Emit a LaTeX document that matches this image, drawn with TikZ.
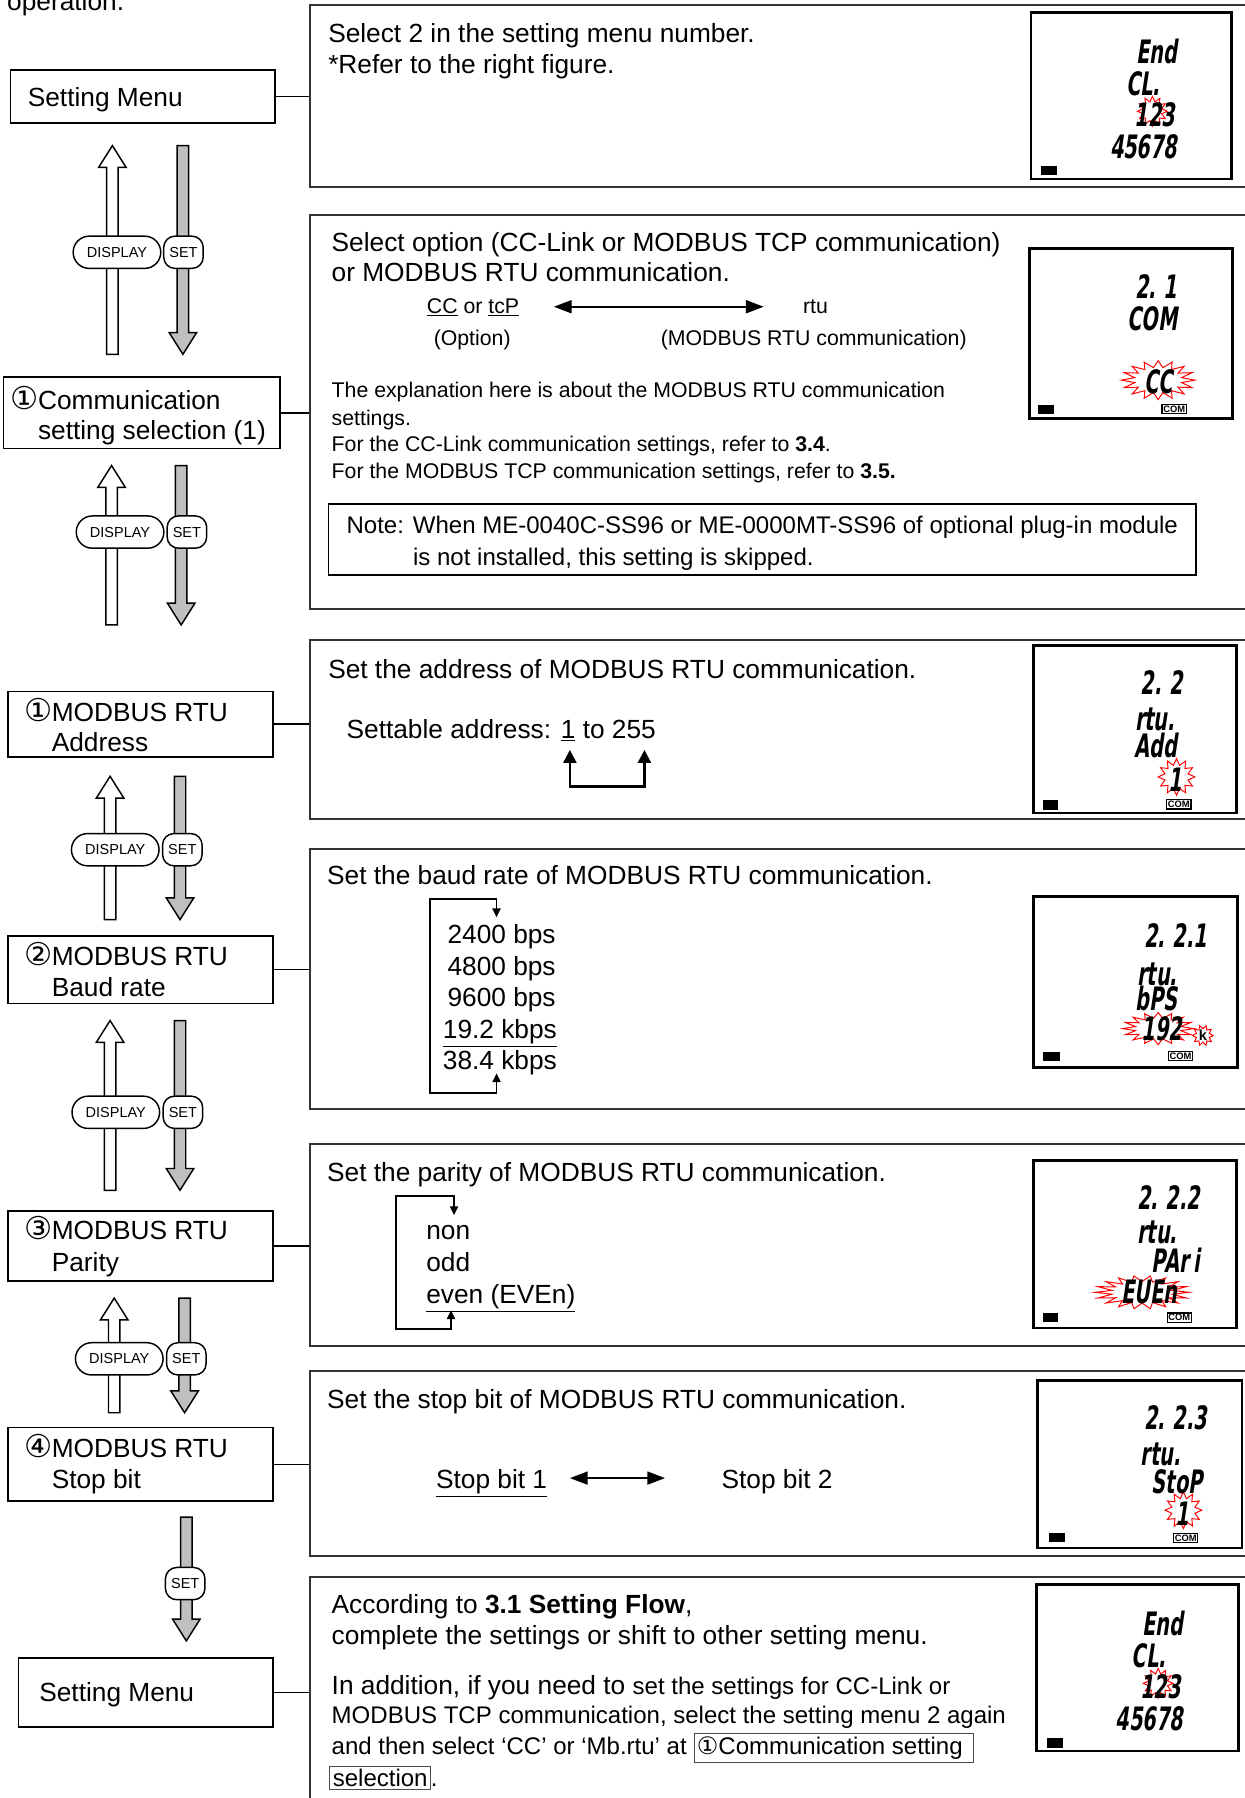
\documentclass[tikz,border=0pt]{standalone}
\usepackage{fontspec}
\setmainfont{Liberation Sans}
\newfontfamily\circfont{DejaVu Sans}
\newfontfamily\lcdfont{DejaVu Sans}[FakeStretch=0.6,FakeSlant=0.15]
\usetikzlibrary{arrows.meta,fit}

\newcommand{\szA}{\fontsize{16.3}{19}\selectfont}
\newcommand{\szB}{\fontsize{14.9}{18}\selectfont}
\newcommand{\szC}{\fontsize{13.2}{16}\selectfont}
\newcommand{\szD}{\fontsize{9}{10}\selectfont}
\newcommand{\cnum}[1]{\makebox[17pt][l]{\circfont\fontsize{19.5}{19}\selectfont #1}}
\newcommand{\frm}[1]{{\fboxsep=1.5pt\fboxrule=0.6pt\color{black!70}\fbox{\color{black}#1}}}
\newcommand{\keyup}[3]{\draw[keyline, fill=white] ({#1-5},#3) -- ({#1-5},{#2+19}) -- ({#1-12},{#2+19}) -- (#1,#2) -- ({#1+12},{#2+19}) -- ({#1+5},{#2+19}) -- ({#1+5},#3) -- cycle;}
\newcommand{\keydown}[3]{\draw[keyline, fill=gray!50] ({#1-5},#2) -- ({#1-5},{#3-19}) -- ({#1-12},{#3-19}) -- (#1,#3) -- ({#1+12},{#3-19}) -- ({#1+5},{#3-19}) -- ({#1+5},#2) -- cycle;}
\newcommand{\flash}[5]{\draw[flashline] ({#1+#3},#2) \foreach \k in {1,...,#5} { -- ({#1+#3*(1-0.35*mod(\k,2))*cos(\k*360/#5)},{#2+#4*(1-0.35*mod(\k,2))*sin(\k*360/#5)}) } -- cycle;}

\begin{document}
\begin{tikzpicture}[x=0.25mm, y=-0.25mm,
	txt/.style={anchor=base west, inner sep=0pt, font=\szA},
	stxt/.style={txt, font=\szC},
	menubox/.style={draw, line width=1pt, inner sep=0pt},
	panel/.style={draw=black!80, line width=1.2pt, inner sep=0pt},
	lcd/.style={draw, line width=1.7pt, inner sep=0pt},
	seg/.style={anchor=base east, inner sep=0pt, font={\lcdfont\bfseries\fontsize{20}{20}\selectfont}},
	combox/.style={draw, line width=0.7pt, inner sep=0.8pt, font={\fontsize{5.8}{5.8}\selectfont\bfseries}},
	dispkey/.style={draw, fill=white, line width=0.9pt, rounded corners=10pt, minimum height=20pt, inner xsep=8.5pt, inner ysep=0pt, font=\szD},
	setkey/.style={dispkey, rounded corners=7pt, inner xsep=3.5pt},
	keyline/.style={line width=0.9pt},
	flashline/.style={red, line width=0.6pt},
	link/.style={line width=1pt},
	dbl/.style={line width=1.3pt, {Triangle[length=11pt,width=8pt]}-{Triangle[length=11pt,width=8pt]}},
	brk/.style={line width=1.5pt, {Triangle[length=8pt,width=8pt]}-{Triangle[length=8pt,width=8pt]}},
	cyc/.style={line width=1.2pt, {Triangle[length=5.5pt,width=5pt]}-{Triangle[length=5.5pt,width=5pt]}}]

	\useasboundingbox (0,0) rectangle (1085,1568);

	\node[txt] (op) at (6,9.3) {operation.};

	\node[menubox, fit={(9,61) (240,107)}] (sm1) {};
	\node[menubox, fit={(3,329) (244,391)}] (cs) {};
	\node[menubox, fit={(7,603) (238,660)}] (adr) {};
	\node[menubox, fit={(7,816) (238,875)}] (bd) {};
	\node[menubox, fit={(7,1056) (238,1117)}] (par) {};
	\node[menubox, fit={(7,1245) (238,1309)}] (stp) {};
	\node[menubox, fit={(16,1446) (238,1506)}] (sm2) {};

	\node[txt] (sm1t) at (24,93) {Setting Menu};
	\node[txt] (cst1) at (9,357) {\cnum{①}Communication};
	\node[txt] (cst2) at (9,383) {\hspace*{17pt}setting selection (1)};
	\node[txt] (adrt1) at (21,629) {\cnum{①}MODBUS RTU};
	\node[txt] (adrt2) at (21,655) {\hspace*{17pt}Address};
	\node[txt] (bdt1) at (21,842) {\cnum{②}MODBUS RTU};
	\node[txt] (bdt2) at (21,869) {\hspace*{17pt}Baud rate};
	\node[txt] (part1) at (21,1081) {\cnum{③}MODBUS RTU};
	\node[txt] (part2) at (21,1109) {\hspace*{17pt}Parity};
	\node[txt] (stpt1) at (21,1271) {\cnum{④}MODBUS RTU};
	\node[txt] (stpt2) at (21,1298) {\hspace*{17pt}Stop bit};
	\node[txt] (sm2t) at (34,1484) {Setting Menu};

	\foreach \i/\xu/\xd/\ya/\yb/\yk/\xp/\xs in {1/98/159.5/127/309/220/102/160, 2/97.3/158/406/545/464/104.7/163, 3/96/157/677/802/741/100.5/159, 4/96/157/890/1038/970/101/159.5, 5/99.6/161/1132/1232/1185/104/162.5}{
		\keyup{\xu}{\ya}{\yb}
		\keydown{\xd}{\ya}{\yb}
		\node[dispkey] (d\i) at (\xp,\yk) {DISPLAY};
		\node[setkey] (s\i) at (\xs,\yk) {SET};
	}
	\keydown{162.5}{1323}{1431}
	\node[setkey] (s6) at (161.5,1381) {SET};

	\node[panel, fit={(270,4) (1100,163)}] (p1) {};
	\node[panel, fit={(270,187.5) (1100,531)}] (p2) {};
	\node[panel, fit={(270,558) (1100,714.5)}] (p3) {};
	\node[panel, fit={(270,740) (1100,967)}] (p4) {};
	\node[panel, fit={(270,998) (1100,1174)}] (p5) {};
	\node[panel, fit={(270,1196) (1100,1357)}] (p6) {};
	\node[panel, fit={(270,1375) (1100,1600)}] (p7) {};

	\draw[link] (sm1.east) -- (sm1.east -| p1.west);
	\draw[link] (cs.east) -- (cs.east -| p2.west);
	\draw[link] (adr.east) -- (adr.east -| p3.west);
	\draw[link] (bd.east) -- (bd.east -| p4.west);
	\draw[link] (par.east) -- (par.east -| p5.west);
	\draw[link] (stp.east) -- (stp.east -| p6.west);
	\draw[link] (sm2.east) -- (sm2.east -| p7.west);

	\node[txt] (p1a) at (286,37) {Select 2 in the setting menu number.};
	\node[txt] (p1b) at (286,64) {*Refer to the right figure.};

	\node[txt] (p2a) at (289,219.5) {Select option (CC-Link or MODBUS TCP communication)};
	\node[txt] (p2b) at (289,245.7) {or MODBUS RTU communication.};
	\node[stxt] (cc) at (372,273) {\underline{CC} or \underline{tcP}};
	\node[stxt] (rtu) at (700,273) {rtu};
	\node[stxt] (opt) at (378,301) {(Option)};
	\node[stxt] (mrtu) at (576,301) {(MODBUS RTU communication)};
	\coordinate (c1) at (483,267.5);
	\coordinate (c2) at (666,267.5);
	\draw[dbl] (c1) -- (c2);
	\node[stxt] (p2c) at (289,347) {The explanation here is about the MODBUS RTU communication};
	\node[stxt] (p2d) at (289,371) {settings.};
	\node[stxt] (p2e) at (289,394) {For the CC-Link communication settings, refer to \textbf{3.4}.};
	\node[stxt] (p2f) at (289,417) {For the MODBUS TCP communication settings, refer to \textbf{3.5.}};
	\node[menubox, fit={(286.5,439.5) (1043,501.5)}] (note) {};
	\node[txt, font=\szB] (note1) at (302,465) {Note: When ME-0040C-SS96 or ME-0000MT-SS96 of optional plug-in module};
	\node[txt, font=\szB] (note2) at (360,493) {is not installed, this setting is skipped.};

	\node[txt] (p3a) at (286,591.7) {Set the address of MODBUS RTU communication.};
	\node[txt] (p3b) at (302,644) {Settable address: \underline{1} to 255};
	\coordinate (a1) at (497,654);
	\coordinate (a2) at (562,654);
	\coordinate (a3) at (530,686);
	\draw[brk] (a1) |- (a3) -| (a2);

	\node[txt] (p4a) at (285,771.4) {Set the baud rate of MODBUS RTU communication.};
	\foreach \j/\t/\x/\y in {1/2400 bps/390/823, 2/4800 bps/390/850.5, 3/9600 bps/390/878, 4/\underline{19.2 kbps}/386/905.5, 5/38.4 kbps/386/933}
		\node[txt] (bps\j) at (\x,\y) {\t};
	\coordinate (b1) at (433,800);
	\coordinate (b2) at (433,936);
	\draw[cyc] (b1) -- (433,784) -- (375,784) -- (375,953.5) -- (433,953.5) -- (b2);

	\node[txt] (p5a) at (285,1030.7) {Set the parity of MODBUS RTU communication.};
	\node[txt] (non) at (371.5,1081) {non};
	\node[txt] (odd) at (371.5,1108.6) {odd};
	\node[txt] (even) at (371.5,1136.8) {\underline{even (EVEn)}};
	\coordinate (e1) at (396,1059.7);
	\coordinate (e2) at (393.3,1142.6);
	\draw[cyc] (e1) -- (396,1043) -- (345.4,1043) -- (345.4,1158.6) -- (393.3,1158.6) -- (e2);

	\node[txt] (p6a) at (285,1228) {Set the stop bit of MODBUS RTU communication.};
	\node[txt] (sb1) at (380,1298) {\underline{Stop bit 1}};
	\node[txt] (sb2) at (629,1298) {Stop bit 2};
	\coordinate (f1) at (497,1289);
	\coordinate (f2) at (580,1289);
	\draw[dbl] (f1) -- (f2);

	\node[txt] (p7a) at (289,1407) {According to \textbf{3.1 Setting Flow},};
	\node[txt] (p7b) at (289,1434) {complete the settings or shift to other setting menu.};
	\node[txt] (p7c) at (289,1478) {In addition, if you need to {\szB set the settings for CC-Link or}};
	\node[txt, font=\szB] (p7d) at (289,1503) {MODBUS TCP communication, select the setting menu 2 again};
	\node[txt, font=\szB] (p7e) at (289,1530) {and then select ‘CC’ or ‘Mb.rtu’ at \frm{{\circfont ①}Communication setting\hspace{5pt}}};
	\node[txt, font=\szB] (p7f) at (287,1558) {\frm{selection}.};

	\node[lcd, fit={(899,11) (1074,156)}] (l1) {};
	\flash{1005}{97}{13}{13}{24}
	\node[seg] (l1a) at (1027,55) {End};
	\node[seg] (l1b) at (1012,83) {CL.};
	\node[seg] (l1c) at (1025,110) {123};
	\node[seg] (l1d) at (1027,138) {45678};
	\fill (908,145) rectangle (922,153);

	\node[lcd, fit={(898,217) (1075,365)}] (l2) {};
	\flash{1010}{331.5}{32}{17}{32}
	\node[seg] (l2a) at (1027,260) {2.\hspace{5pt}1};
	\node[seg] (l2b) at (1027,288) {COM};
	\node[seg] (l2c) at (1023,343) {CC};
	\fill (905,353) rectangle (919,361);
	\node[combox] (l2m) at (1024,356.5) {COM};

	\node[lcd, fit={(901,563) (1078,709)}] (l3) {};
	\flash{1026}{677.5}{16}{16}{24}
	\node[seg] (l3a) at (1032,606) {2.\hspace{5pt}2};
	\node[seg] (l3b) at (1025,637) {rtu.};
	\node[seg] (l3c) at (1027,661) {Add};
	\node[seg] (l3d) at (1031,690) {1};
	\fill (910,698) rectangle (923,706);
	\node[combox] (l3m) at (1028,701.5) {COM};

	\node[lcd, fit={(901,782) (1079,931)}] (l4) {};
	\flash{1010}{897}{31}{14}{32}
	\flash{1049}{903}{9}{9}{20}
	\node[seg] (l4a) at (1053,826) {2.\hspace{5pt}2.1};
	\node[seg] (l4b) at (1027,859) {rtu.};
	\node[seg] (l4c) at (1027,881) {bPS};
	\node[seg] (l4d) at (1031,907) {192};
	\node[inner sep=0pt, font={\fontsize{9}{9}\selectfont\bfseries}] (l4k) at (1049,903) {k};
	\fill (910,917) rectangle (924,925);
	\node[combox] (l4m) at (1029.5,921) {COM};

	\node[lcd, fit={(901,1012) (1078,1158)}] (l5) {};
	\flash{996}{1127}{41}{14.5}{36}
	\node[seg] (l5a) at (1047,1055) {2.\hspace{5pt}2.2};
	\node[seg] (l5b) at (1027,1084) {rtu.};
	\node[seg] (l5c) at (1047,1110) {PAr\hspace{3pt}i};
	\node[seg] (l5d) at (1027,1137) {EUEn};
	\fill (910,1145) rectangle (923,1153);
	\node[combox] (l5m) at (1028.5,1149) {COM};

	\node[lcd, fit={(905,1204) (1083,1350)}] (l6) {};
	\flash{1032}{1317}{16}{16}{24}
	\node[seg] (l6a) at (1053,1247) {2.\hspace{5pt}2.3};
	\node[seg] (l6b) at (1030,1278) {rtu.};
	\node[seg] (l6c) at (1049,1302) {StoP};
	\node[seg] (l6d) at (1037,1330) {1};
	\fill (915,1337) rectangle (929,1345);
	\node[combox] (l6m) at (1034,1341.5) {COM};

	\node[lcd, fit={(904,1382) (1080,1527)}] (l7) {};
	\flash{1010}{1468}{13}{13}{24}
	\node[seg] (l7a) at (1032,1426) {End};
	\node[seg] (l7b) at (1017,1454) {CL.};
	\node[seg] (l7c) at (1030,1481) {123};
	\node[seg] (l7d) at (1032,1509) {45678};
	\fill (913,1516) rectangle (927,1524);

\end{tikzpicture}
\end{document}
